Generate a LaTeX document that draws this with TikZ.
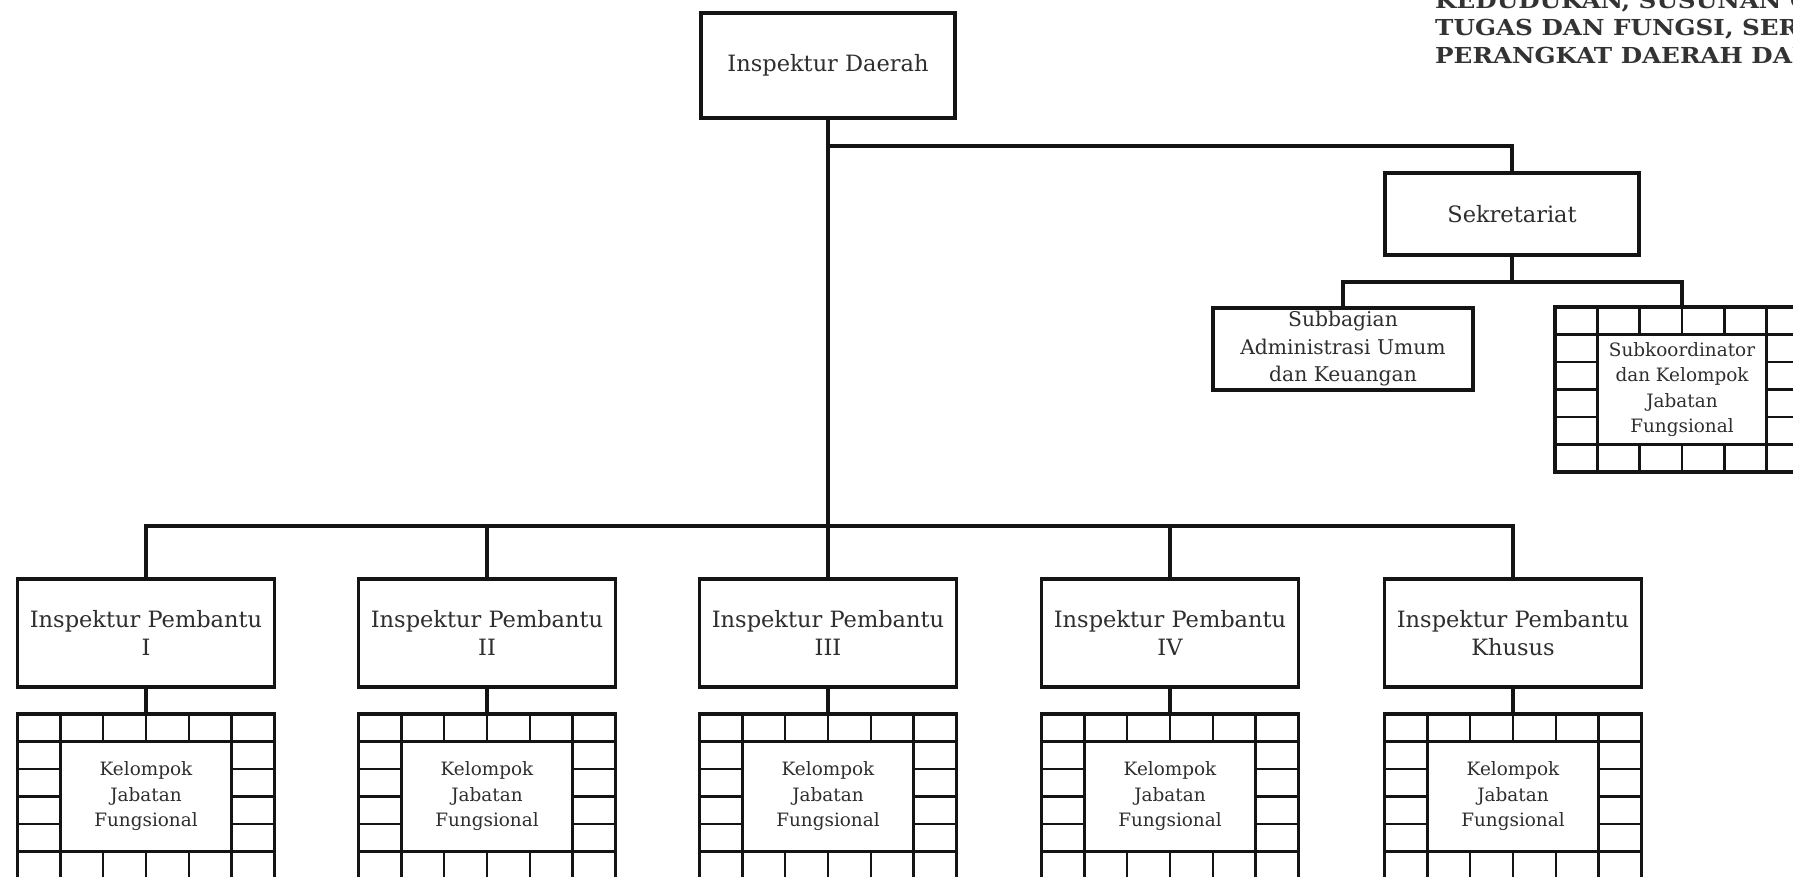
\documentclass[tikz,border=0pt]{standalone}
\usepackage{fontspec}
\setmainfont{DejaVu Serif}
\newfontfamily\headfont[FakeStretch=1.12]{DejaVu Serif Bold}
\usetikzlibrary{calc}

% one drawing unit = 1pt, y axis pointing down
\tikzset{
  x=1pt, y=-1pt,
  unitbox/.style={draw=black!92, line width=3.7pt, fill=white, outer sep=0pt,
    inner sep=0pt, align=center, text=black!82},
  bigtext/.style={font=\fontsize{22.5}{28}\selectfont},
  midtext/.style={font=\fontsize{20.3}{27.5}\selectfont},
  smalltext/.style={font=\fontsize{18.4}{25.5}\selectfont},
  headbox/.style={unitbox, bigtext, minimum width=254pt},
  gridbox/.style={unitbox, smalltext, minimum width=256pt, minimum height=165pt},
  gridline/.style={draw=black!92, line width=2.6pt},
  link/.style={draw=black!92, line width=3.2pt},
  header/.style={inner sep=0pt, anchor=base west, text=black!80,
    font=\headfont\fontsize{22}{26}\selectfont}
}

% bordered cells of a functional group box: a ring of cells around an empty centre
\newcommand{\cellring}[1]{%
  \foreach \k in {1,...,5}{
    \draw[gridline] ($(#1.north west)!\k/6!(#1.north east)$) -- ($(#1.north west)!\k/6!(#1.north east)+(0,27.5)$);
    \draw[gridline] ($(#1.south west)!\k/6!(#1.south east)$) -- ($(#1.south west)!\k/6!(#1.south east)+(0,-27.5)$);
    \draw[gridline] ($(#1.north west)!\k/6!(#1.south west)$) -- ($(#1.north west)!\k/6!(#1.south west)+(42.7,0)$);
    \draw[gridline] ($(#1.north east)!\k/6!(#1.south east)$) -- ($(#1.north east)!\k/6!(#1.south east)+(-42.7,0)$);
  }
  \draw[gridline] ($(#1.north west)!1/6!(#1.north east)$) -- ($(#1.south west)!1/6!(#1.south east)$);
  \draw[gridline] ($(#1.north west)!5/6!(#1.north east)$) -- ($(#1.south west)!5/6!(#1.south east)$);
  \draw[gridline] ($(#1.north west)!1/6!(#1.south west)$) -- ($(#1.north east)!1/6!(#1.south east)$);
  \draw[gridline] ($(#1.north west)!5/6!(#1.south west)$) -- ($(#1.north east)!5/6!(#1.south east)$);
}

\begin{document}
\begin{tikzpicture}
\useasboundingbox (0,0) rectangle (1793,876);
\fill[white] (0,0) rectangle (1793,876);
\clip (0,0) rectangle (1793,876);

% heading of the regulation, running off the page
\node[header] (hdr1) at (1435,8)    {KEDUDUKAN, SUSUNAN ORGANISASI,};
\node[header] (hdr2) at (1435,35.5) {TUGAS DAN FUNGSI, SERTA TATA};
\node[header] (hdr3) at (1435,63)   {PERANGKAT DAERAH DAN};

% head of the inspectorate and the secretariat
\node[headbox, minimum height=105pt] (kepala) at (828,65.5) {Inspektur Daerah};
\node[headbox, minimum height=82pt] (sekre) at (1512,214) {Sekretariat};
\node[unitbox, midtext, minimum width=260pt, minimum height=82pt] (subbag) at (1343,349)
  {Subbagian\\Administrasi Umum\\dan Keuangan};
\node[gridbox, minimum width=254pt] (subkoor) at (1682,389.5)
  {Subkoordinator\\dan Kelompok\\Jabatan\\Fungsional};
\cellring{subkoor}

% assistant inspectors and their functional groups
\foreach \n/\x/\lbl in {1/146/I, 2/487/II, 3/828/III, 4/1170/IV, 5/1513/Khusus}{
  \node[headbox, minimum width=257pt, minimum height=108pt] (irban\n) at (\x,633)
    {Inspektur Pembantu\\\lbl};
  \node[gridbox, minimum width=257pt] (kjf\n) at (\x,796.5)
    {Kelompok\\Jabatan\\Fungsional};
  \cellring{kjf\n}
}

% connectors
\coordinate (topbar) at (828,146);
\coordinate (lowbar) at (828,526);
\coordinate (sekbar) at (1512,282);

\draw[link] (kepala.south) -- (lowbar);
\draw[link] (topbar) -| (sekre.north);
\draw[link] (sekre.south) -- (sekbar);
\draw[link] (sekbar) -| (subbag.north);
\draw[link] (sekbar) -| (subkoor.north);
\foreach \n in {1,...,5}{
  \draw[link] (lowbar) -| (irban\n.north);
  \draw[link] (irban\n.south) -- (kjf\n.north);
}
\end{tikzpicture}
\end{document}
